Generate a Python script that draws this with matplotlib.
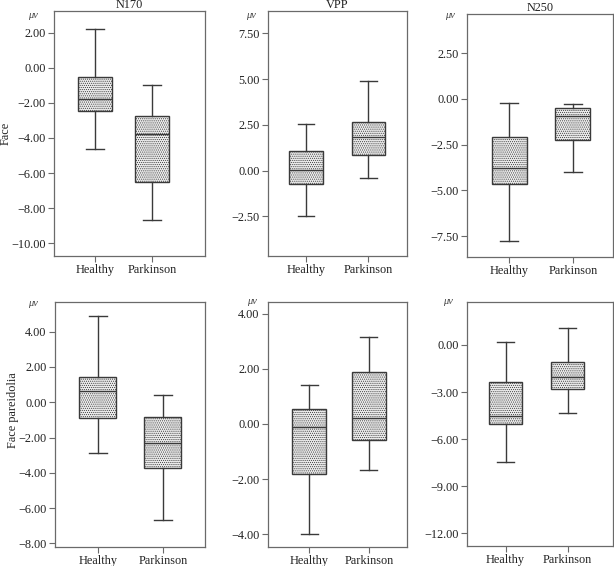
import matplotlib
matplotlib.use("Agg")
import matplotlib.pyplot as plt
import numpy as np

plt.rcParams['font.family'] = ['Liberation Serif', 'DejaVu Serif']
plt.rcParams['hatch.linewidth'] = 0.5
plt.rcParams['hatch.color'] = '#7a7a7a'

groups = ["Healthy", "Parkinson"]
components = ["N170", "VPP", "N250"]
conditions = ["Face", "Face pareidolia"]

# five-number summaries: whisker low, Q1, median, Q3, whisker high
n170_face_healthy = [-4.65, -2.48, -1.78, -0.51, 2.23]
n170_face_parkinson = [-8.69, -6.52, -3.79, -2.73, -1.00]
vpp_face_healthy = [-2.46, -0.71, 0.01, 1.09, 2.55]
vpp_face_parkinson = [-0.39, 0.85, 1.82, 2.64, 4.91]
n250_face_healthy = [-7.76, -4.65, -3.78, -2.09, -0.24]
n250_face_parkinson = [-4.02, -2.27, -0.96, -0.47, -0.27]
n170_par_healthy = [-2.86, -0.87, 0.64, 1.42, 4.89]
n170_par_parkinson = [-6.69, -3.74, -2.31, -0.83, 0.40]
vpp_par_healthy = [-4.00, -1.83, -0.12, 0.55, 1.42]
vpp_par_parkinson = [-1.68, -0.59, 0.23, 1.89, 3.15]
n250_par_healthy = [-7.43, -5.04, -4.51, -2.38, 0.17]
n250_par_parkinson = [-4.34, -2.81, -2.06, -1.06, 1.06]

yticks_list = [
    [2, 0, -2, -4, -6, -8, -10],
    [7.5, 5, 2.5, 0, -2.5],
    [2.5, 0, -2.5, -5, -7.5],
    [4, 2, 0, -2, -4, -6, -8],
    [4, 2, 0, -2, -4],
    [0, -3, -6, -9, -12],
]

panels = [
    (n170_face_healthy, n170_face_parkinson),
    (vpp_face_healthy, vpp_face_parkinson),
    (n250_face_healthy, n250_face_parkinson),
    (n170_par_healthy, n170_par_parkinson),
    (vpp_par_healthy, vpp_par_parkinson),
    (n250_par_healthy, n250_par_parkinson),
]

# layout (pixels): left, right, top, bottom
W, H = 614, 566
boxes_px = [
    (54, 205, 11, 256), (268, 407, 11, 256), (467, 613, 14, 257),
    (55, 205, 302, 547), (268, 407, 302, 547), (467, 613, 302, 546),
]
ylims = [(-10.72, 3.23), (-4.67, 8.72), (-8.64, 4.64),
         (-8.2, 5.68), (-4.46, 4.42), (-12.81, 2.74)]
xlims = [(0.28, 2.93), (0.39, 2.62), (0.34, 2.63),
         (0.34, 2.65), (0.31, 2.64), (0.38, 2.73)]
bwidths = [0.6, 0.54, 0.55, 0.57, 0.57, 0.54]
mu_off = [(-21, 4), (-17, 4), (-17, 1), (-22, 2), (-16, -1), (-19.5, 0)]

fig = plt.figure(figsize=(W / 100, H / 100), dpi=100)
dark = '#3a3a3a'
spine_c = '#6a6a6a'

for i, (data, box) in enumerate(zip(panels, boxes_px)):
    l, r, t, b = box
    ax = fig.add_axes([l / W, 1 - b / H, (r - l) / W, (b - t) / H])
    stats = []
    for g, d in zip(groups, data):
        stats.append(dict(label=g, whislo=d[0], q1=d[1], med=d[2], q3=d[3],
                          whishi=d[4], fliers=[]))
    ax.bxp(stats, positions=[1, 2], widths=bwidths[i], patch_artist=True,
           showfliers=False,
           boxprops=dict(facecolor='#ececec', edgecolor=dark, linewidth=1.0, hatch='........'),
           medianprops=dict(color=dark, linewidth=1.0),
           whiskerprops=dict(color=dark, linewidth=1.0),
           capprops=dict(color=dark, linewidth=1.0))
    ax.set_xlim(*xlims[i])
    ax.set_ylim(*ylims[i])
    ax.set_yticks(yticks_list[i])
    ax.set_yticklabels([f"{v:.2f}".replace("-", "\u2212") for v in yticks_list[i]])
    ax.set_xticks([1, 2])
    ax.set_xticklabels(groups)
    ax.tick_params(axis='both', direction='out', length=4, width=0.8, color=spine_c,
                   labelsize=8.8, labelcolor='#222222', pad=2)
    for s in ax.spines.values():
        s.set_color(spine_c)
        s.set_linewidth(0.9)
    if i < 3:
        ax.set_title(components[i], fontsize=8.8, color='#222222', pad=1.5)
    dx, dy = mu_off[i]
    fig.text((l + dx) / W, 1 - (t + dy) / H, "μv", fontsize=7.5, style='italic',
             color='#444444', ha='center', va='center')

fig.text(6 / W, 1 - 133 / H, conditions[0], rotation=90, fontsize=8.8,
         color='#222222', ha='center', va='center')
fig.text(13 / W, 1 - 410 / H, conditions[1], rotation=90, fontsize=8.8,
         color='#222222', ha='center', va='center')

fig.savefig("out.png", dpi=100, facecolor='white')
